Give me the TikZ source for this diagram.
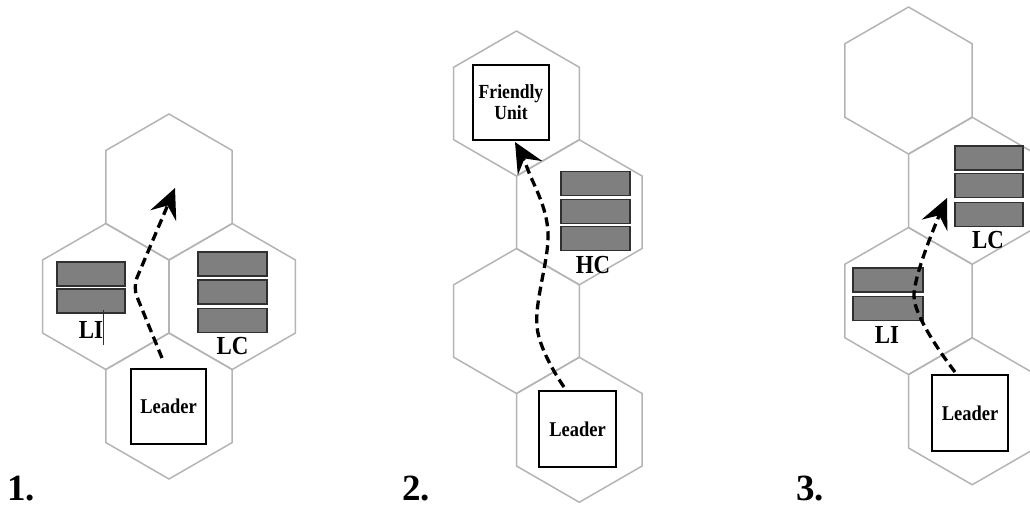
\documentclass[tikz,border=0pt]{standalone}
\usepackage{fontspec}
\setmainfont{Liberation Serif}
\newfontfamily\narrowserif[FakeStretch=0.88]{Liberation Serif}
\usetikzlibrary{arrows.meta}
\definecolor{hexgray}{HTML}{B4B4B4}
\definecolor{barfill}{HTML}{7F7F7F}
\definecolor{bardraw}{HTML}{303030}
\tikzset{
  hexline/.style={draw=hexgray, line width=1.5pt, line join=miter},
  bar/.style={draw=bardraw, fill=barfill, line width=1.2pt, minimum width=69pt, minimum height=24pt, inner sep=0pt},
  unitbox/.style={draw=black, fill=white, line width=1.2pt, inner sep=0pt, minimum width=76pt, minimum height=76pt},
  unitlbl/.style={font=\narrowserif\bfseries\fontsize{26}{26}\selectfont, inner sep=0pt, anchor=base},
  boxtext/.style={font=\narrowserif\bfseries\fontsize{21}{21}\selectfont, inner sep=0pt, align=center},
  num/.style={font=\bfseries\fontsize{37}{37}\selectfont, inner sep=0pt, anchor=base west},
  route/.style={line width=3.3pt, dash pattern=on 9pt off 5pt, -{Stealth[length=30pt,width=28pt,inset=11pt]}}
}
\newcommand\hexcell[2]{%
  \draw[hexline] (#1) ++(90:#2) -- ++(210:#2) -- ++(270:#2) -- ++(330:#2) -- ++(30:#2) -- ++(90:#2) -- cycle;}
\begin{document}
\begin{tikzpicture}[x=1pt,y=-1pt]
\useasboundingbox (0,0) rectangle (1030,507);

% ---------- Panel 1 ----------
\coordinate (h1a) at (169,187);
\coordinate (h1b) at (105.8,296.5);
\coordinate (h1c) at (232.2,296.5);
\coordinate (h1d) at (169,406);
\foreach \c in {h1a,h1b,h1c,h1d} {\hexcell{\c}{73}}

\node[bar, minimum width=68pt] (p1li1) at (91,274) {};
\node[bar, minimum width=68pt] (p1li2) at (91,301) {};
\node[unitlbl] (p1lilbl) at (91,338) {LI};
\draw[bardraw, line width=1pt] (103,310) -- (103,345);

\node[bar] (p1lc1) at (232.5,264) {};
\node[bar] (p1lc2) at (232.5,292) {};
\node[bar] (p1lc3) at (232.5,320.5) {};
\node[unitlbl] (p1lclbl) at (232.5,354) {LC};

\node[unitbox, minimum width=75pt, minimum height=75pt] (p1lead) at (168.5,406.5) {};
\node[boxtext] (p1leadtxt) at (p1lead.center) {Leader};

\coordinate (p1s) at (162,358);
\coordinate (p1m) at (133,287);
\coordinate (p1e) at (175,188);
\draw[route, rounded corners=10pt] (p1s) -- (p1m) -- (p1e);

\node[num] (n1) at (7,500) {1.};

% ---------- Panel 2 ----------
\coordinate (h2a) at (516.5,103.5);
\coordinate (h2b) at (579.3,212.25);
\coordinate (h2c) at (516.5,321);
\coordinate (h2d) at (579.3,429.75);
\foreach \c in {h2a,h2b,h2c,h2d} {\hexcell{\c}{72.5}}

\node[unitbox, minimum width=76pt, minimum height=75pt] (p2fr) at (511,102.5) {};
\node[boxtext, font=\narrowserif\bfseries\fontsize{20}{21}\selectfont] (p2frtxt) at (p2fr.center) {Friendly\\Unit};

\node[bar] (p2hc1) at (595.5,183.5) {};
\node[bar] (p2hc2) at (595.5,211.5) {};
\node[bar] (p2hc3) at (595.5,238.5) {};
\node[unitlbl] (p2hclbl) at (593,273) {HC};

\node[unitbox, minimum width=77pt] (p2lead) at (577.5,429) {};
\node[boxtext] (p2leadtxt) at (p2lead.center) {Leader};

\coordinate (p2s) at (564,387);
\coordinate (p2m1) at (537,327);
\coordinate (p2m2) at (548,232);
\coordinate (p2m3) at (528,170);
\coordinate (p2e) at (515,142);
\draw[route] plot[smooth, tension=0.6] coordinates {(p2s) (p2m1) (p2m2) (p2m3) (p2e)};

\node[num] (n2) at (402,500) {2.};

% ---------- Panel 3 ----------
\coordinate (h3a) at (908.5,80.5);
\coordinate (h3b) at (972.2,190.75);
\coordinate (h3c) at (908.5,301);
\coordinate (h3d) at (972.2,411.25);
\foreach \c in {h3a,h3b,h3c,h3d} {\hexcell{\c}{73.5}}

\node[bar, minimum width=68pt] (p3lc1) at (989,158) {};
\node[bar, minimum width=68pt] (p3lc2) at (989,185.5) {};
\node[bar, minimum width=68pt] (p3lc3) at (989,214.5) {};
\node[unitlbl] (p3lclbl) at (988,248) {LC};

\node[bar, minimum width=70pt] (p3li1) at (888,280) {};
\node[bar, minimum width=70pt] (p3li2) at (888,308.5) {};
\node[unitlbl] (p3lilbl) at (887,343) {LI};

\node[unitbox] (p3lead) at (970,413) {};
\node[boxtext] (p3leadtxt) at (p3lead.center) {Leader};

\coordinate (p3s) at (955,372);
\coordinate (p3m) at (914,297);
\coordinate (p3e) at (947,198);
\draw[route] plot[smooth, tension=0.5] coordinates {(p3s) (p3m) (p3e)};

\node[num] (n3) at (796,500) {3.};
\end{tikzpicture}
\end{document}
